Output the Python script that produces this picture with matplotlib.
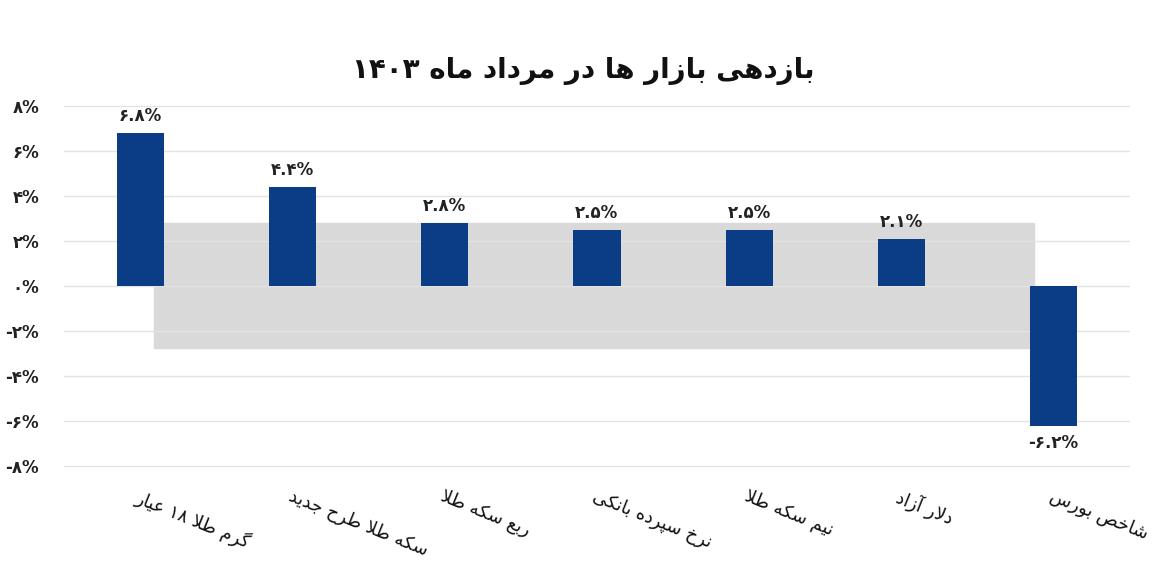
import re
import numpy as np
import matplotlib
matplotlib.use("Agg")
import matplotlib.pyplot as plt
from matplotlib.patches import Rectangle

title = "بازدهی بازار ها در مرداد ماه ۱۴۰۳"
categories = ["گرم طلا ۱۸ عیار", "سکه طلا طرح جدید", "ربع سکه طلا", "نرخ سپرده بانکی",
              "نیم سکه طلا", "دلار آزاد", "شاخص بورس"]
values = [6.8, 4.4, 2.8, 2.5, 2.5, 2.1, -6.2]
yticks = [-8, -6, -4, -2, 0, 2, 4, 6, 8]

# persian letters -> (isolated, final, initial, medial)
FORMS = {
    'ا': ('\uFE8D', '\uFE8E', None, None),
    'آ': ('\uFE81', '\uFE82', None, None),
    'ب': ('\uFE8F', '\uFE90', '\uFE91', '\uFE92'),
    'پ': ('\uFB56', '\uFB57', '\uFB58', '\uFB59'),
    'ت': ('\uFE95', '\uFE96', '\uFE97', '\uFE98'),
    'ج': ('\uFE9D', '\uFE9E', '\uFE9F', '\uFEA0'),
    'ح': ('\uFEA1', '\uFEA2', '\uFEA3', '\uFEA4'),
    'خ': ('\uFEA5', '\uFEA6', '\uFEA7', '\uFEA8'),
    'د': ('\uFEA9', '\uFEAA', None, None),
    'ر': ('\uFEAD', '\uFEAE', None, None),
    'ز': ('\uFEAF', '\uFEB0', None, None),
    'س': ('\uFEB1', '\uFEB2', '\uFEB3', '\uFEB4'),
    'ش': ('\uFEB5', '\uFEB6', '\uFEB7', '\uFEB8'),
    'ص': ('\uFEB9', '\uFEBA', '\uFEBB', '\uFEBC'),
    'ط': ('\uFEC1', '\uFEC2', '\uFEC3', '\uFEC4'),
    'ع': ('\uFEC9', '\uFECA', '\uFECB', '\uFECC'),
    'ک': ('\uFB8E', '\uFB8F', '\uFB90', '\uFB91'),
    'گ': ('\uFB92', '\uFB93', '\uFB94', '\uFB95'),
    'ل': ('\uFEDD', '\uFEDE', '\uFEDF', '\uFEE0'),
    'م': ('\uFEE1', '\uFEE2', '\uFEE3', '\uFEE4'),
    'ن': ('\uFEE5', '\uFEE6', '\uFEE7', '\uFEE8'),
    'ه': ('\uFEE9', '\uFEEA', '\uFEEB', '\uFEEC'),
    'و': ('\uFEED', '\uFEEE', None, None),
    'ی': ('\uFBFC', '\uFBFD', '\uFBFE', '\uFBFF'),
}


def shape(text):
    text = text.replace('ك', 'ک').replace('ي', 'ی')
    out = []
    i = 0
    while i < len(text):
        c = text[i]
        if c not in FORMS:
            out.append(c)
            i += 1
            continue
        prev = text[i - 1] if i > 0 else ''
        prev_joins = prev in FORMS and FORMS[prev][2] is not None
        if c == 'ل' and i + 1 < len(text) and text[i + 1] == 'ا':
            out.append('\uFEFC' if prev_joins else '\uFEFB')
            i += 2
            continue
        nxt = text[i + 1] if i + 1 < len(text) else ''
        next_joins = FORMS[c][2] is not None and nxt in FORMS
        iso, fin, ini, med = FORMS[c]
        if prev_joins and next_joins:
            out.append(med)
        elif prev_joins:
            out.append(fin)
        elif next_joins:
            out.append(ini)
        else:
            out.append(iso)
        i += 1
    vis = ''.join(out)[::-1]
    return re.sub(r'[0-9۰-۹]+', lambda m: m.group(0)[::-1], vis)


def fa(s):
    return s.translate(str.maketrans("0123456789", "۰۱۲۳۴۵۶۷۸۹"))


fig = plt.figure(figsize=(11.67, 5.88), dpi=100)
ax = fig.add_axes([0.055, 0.203, 0.913, 0.620])

x = np.arange(len(categories))
ax.add_patch(Rectangle((0.084, 0.33), 0.826, 0.343, transform=ax.transAxes,
                       color="#d9d9d9", zorder=0))
ax.bar(x, values, width=0.31, color="#0b3d87", zorder=3)

for xi, v in zip(x, values):
    lab = fa(f"{v:.1f}%")
    if v >= 0:
        ax.annotate(lab, (xi, v), xytext=(0, 6), textcoords="offset points",
                    ha="center", va="bottom", fontsize=12, fontweight="bold", color="#222222")
    else:
        ax.annotate(lab, (xi, v), xytext=(0, -6), textcoords="offset points",
                    ha="center", va="top", fontsize=12, fontweight="bold", color="#222222")

ax.set_xlim(-0.5, len(categories) - 0.5)
ax.set_ylim(-8.1, 8.1)
ax.set_yticks(yticks)
ax.set_yticklabels([fa(f"{t}%") for t in yticks], fontsize=12, fontweight="bold", color="#222222")
ax.set_xticks(x)
ax.set_xticklabels([shape(c) for c in categories], fontsize=13, color="#111111",
                   rotation=-22, ha="left", va="top", rotation_mode="anchor")
ax.tick_params(axis="both", length=0)
ax.tick_params(axis="y", pad=18)
ax.tick_params(axis="x", pad=13)
ax.grid(axis="y", color="#e3e3e3", linewidth=1, zorder=1)
ax.set_axisbelow(False)
for s in ax.spines.values():
    s.set_visible(False)

fig.text(0.5, 0.88, shape(title), ha="center", va="center", fontsize=20,
         fontweight="bold", color="#111111")

fig.savefig("out.png", dpi=100, facecolor="white")
